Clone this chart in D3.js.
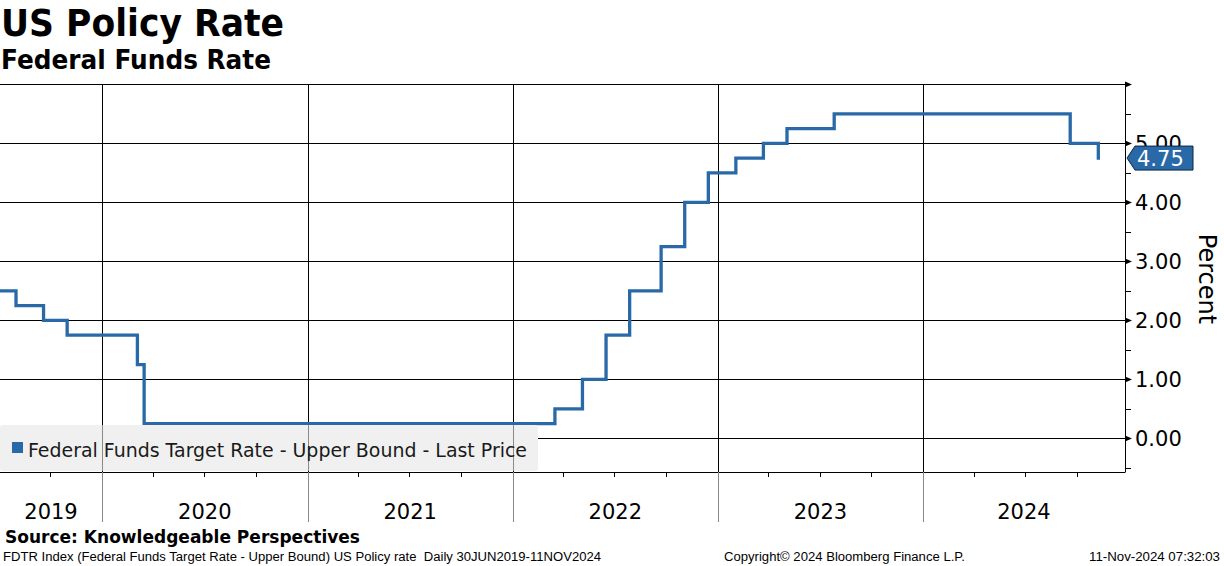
<!DOCTYPE html>
<html><head><meta charset="utf-8">
<script src="https://cdn.jsdelivr.net/npm/d3@7"></script>
<style>
html,body{margin:0;padding:0;background:#fff;}
svg{display:block;font-family:"DejaVu Sans",Tahoma,sans-serif;}
text{white-space:pre;}
</style></head>
<body><svg id="c" width="1224" height="566"></svg>
<script>
// ---- data ----
const changeDates = ["2019-06-30","2019-08-01","2019-09-19","2019-10-31","2020-03-04","2020-03-16","2022-03-17","2022-05-05","2022-06-16","2022-07-28","2022-09-22","2022-11-03","2022-12-15","2023-02-02","2023-03-23","2023-05-04","2023-07-27","2024-09-19","2024-11-08","2024-11-11"];
const upperBound = [2.50,2.25,2.00,1.75,1.25,0.25,0.50,1.00,1.75,2.50,3.25,4.00,4.50,4.75,5.00,5.25,5.50,5.00,4.75,4.75];
const yTickValues = [0,1,2,3,4,5,6];
const yTickLabels = ["0.00","1.00","2.00","3.00","4.00","5.00",""];
const yearLabels = ["2019","2020","2021","2022","2023","2024"];
const lastValue = 4.75;

(function(){
const parse = d3.timeParse("%Y-%m-%d");
const data = changeDates.map((d,i)=>({date:parse(d), v:upperBound[i]}));

const svg = d3.select("#c");
const pL = 0, pR = 1125, pT = 84.3, pB = 472;
const blue = "#2a69a8";

const x = d3.scaleTime()
  .domain([new Date(2019,6,3,12), new Date(2024,11,25,12)])
  .range([pL, pR]);
const y = d3.scaleLinear().domain([-0.57, 6]).range([pB, pT]);

function fit(sel, w){
  const n = sel.node().getComputedTextLength();
  if (Math.abs(n - w) > 1) sel.attr("textLength", w).attr("lengthAdjust","spacingAndGlyphs");
}

// titles
fit(svg.append("text").attr("x",1).attr("y",36).attr("font-size",37).attr("font-weight","bold")
  .attr("fill","#000").text("US Policy Rate"), 283);
fit(svg.append("text").attr("x",1).attr("y",69).attr("font-size",26).attr("font-weight","bold")
  .attr("fill","#000").text("Federal Funds Rate"), 270);

// clip
svg.append("defs").append("clipPath").attr("id","clip")
  .append("rect").attr("x",pL).attr("y",pT-5).attr("width",pR-pL).attr("height",pB-pT+5);

// horizontal gridlines
svg.append("g").selectAll("line").data(yTickValues).join("line")
  .attr("x1",pL).attr("x2",pR).attr("y1",d=>Math.round(y(d))+0.5).attr("y2",d=>Math.round(y(d))+0.5)
  .attr("stroke","#000").attr("stroke-width",1);

// vertical year gridlines
const years = d3.timeYear.range(new Date(2020,0,1), new Date(2025,0,1));
svg.append("g").selectAll("line").data(years).join("line")
  .attr("x1",d=>Math.round(x(d))+0.5).attr("x2",d=>Math.round(x(d))+0.5)
  .attr("y1",pT).attr("y2",pB)
  .attr("stroke","#000").attr("stroke-width",1);

// series
const line = d3.line().x(d=>x(d.date)).y(d=>y(d.v)).curve(d3.curveStepAfter);
svg.append("path").datum(data).attr("clip-path","url(#clip)")
  .attr("d",line).attr("fill","none").attr("stroke",blue).attr("stroke-width",3.3);

// legend
svg.append("rect").attr("x",0).attr("y",425).attr("width",538).attr("height",46).attr("rx",3)
  .attr("fill","#f0f0f0");
svg.append("g").selectAll("line").data(years.filter(d=>x(d)<538)).join("line")
  .attr("x1",d=>Math.round(x(d))+0.5).attr("x2",d=>Math.round(x(d))+0.5)
  .attr("y1",425).attr("y2",471).attr("stroke","#8a8a8a").attr("stroke-width",1);
svg.append("rect").attr("x",12).attr("y",442).attr("width",11).attr("height",11).attr("fill",blue);
fit(svg.append("text").attr("x",28).attr("y",457).attr("font-size",20).attr("fill","#1a1a1a")
  .text("Federal Funds Target Rate - Upper Bound - Last Price"), 499);

// right axis
svg.append("line").attr("x1",pR+0.5).attr("x2",pR+0.5).attr("y1",pT).attr("y2",pB)
  .attr("stroke","#000");
svg.append("g").selectAll("path").data(yTickValues).join("path")
  .attr("d",d=>{const yy=Math.round(y(d))+0.5; return `M${pR},${yy-3}L${pR+7},${yy}L${pR},${yy+3}Z`;})
  .attr("fill","#000");
const minor = d3.range(-0.5, 6, 1);
svg.append("g").selectAll("line").data(minor).join("line")
  .attr("x1",pR).attr("x2",pR+6).attr("y1",d=>Math.round(y(d))+0.5).attr("y2",d=>Math.round(y(d))+0.5)
  .attr("stroke","#000");
svg.append("g").selectAll("text").data(yTickValues).join("text")
  .attr("x",pR+10).attr("y",d=>y(d)+8).attr("font-size",21).attr("fill","#000")
  .text((d,i)=>yTickLabels[i]);
svg.append("text").attr("transform","translate(1199,279) rotate(90)")
  .attr("text-anchor","middle").attr("font-size",24).attr("fill","#000").text("Percent");

// bottom axis
svg.append("line").attr("x1",pL).attr("x2",pR+0.5).attr("y1",pB+0.5).attr("y2",pB+0.5).attr("stroke","#000");
const quarters = d3.timeMonth.every(3).range(x.domain()[0], x.domain()[1]).filter(d=>d.getMonth()!==0);
svg.append("g").selectAll("line").data(quarters).join("line")
  .attr("x1",d=>Math.round(x(d))+0.5).attr("x2",d=>Math.round(x(d))+0.5)
  .attr("y1",pB).attr("y2",pB+5).attr("stroke","#000");
svg.append("g").selectAll("line").data(years).join("line")
  .attr("x1",d=>Math.round(x(d))+0.5).attr("x2",d=>Math.round(x(d))+0.5)
  .attr("y1",pB).attr("y2",522).attr("stroke","#888");
const bounds = [pL, ...years.map(x), pR];
svg.append("g").selectAll("text").data(yearLabels).join("text")
  .attr("x",(d,i)=>(bounds[i]+bounds[i+1])/2).attr("y",519)
  .attr("text-anchor","middle").attr("font-size",21).attr("fill","#000").text(d=>d);

// last value tag
const ty = y(lastValue);
svg.append("path").attr("d",`M${pR+2},${ty}L${pR+10},${ty-12}L${pR+68},${ty-12}L${pR+68},${ty+12}L${pR+10},${ty+12}Z`)
  .attr("fill",blue).attr("stroke","#0b2540").attr("stroke-width",1);
svg.append("text").attr("x",pR+12).attr("y",ty+8).attr("font-size",21).attr("fill","#fff").text(lastValue.toFixed(2));

// source & footer
fit(svg.append("text").attr("x",5).attr("y",543).attr("font-size",18).attr("font-weight","bold").attr("fill","#000")
  .text("Source: Knowledgeable Perspectives"), 355);
const ff = "'Liberation Sans', Arial, sans-serif";
fit(svg.append("text").attr("x",3).attr("y",561).attr("font-size",12.5).attr("font-family",ff).attr("fill","#000")
  .text("FDTR Index (Federal Funds Target Rate - Upper Bound) US Policy rate  Daily 30JUN2019-11NOV2024"), 598);
fit(svg.append("text").attr("x",724).attr("y",561).attr("font-size",12.5).attr("font-family",ff).attr("fill","#000")
  .text("Copyright\u00A9 2024 Bloomberg Finance L.P."), 241);
fit(svg.append("text").attr("x",1089).attr("y",561).attr("font-size",12.5).attr("font-family",ff).attr("fill","#000")
  .text("11-Nov-2024 07:32:03"), 131);
})();
</script></body></html>
